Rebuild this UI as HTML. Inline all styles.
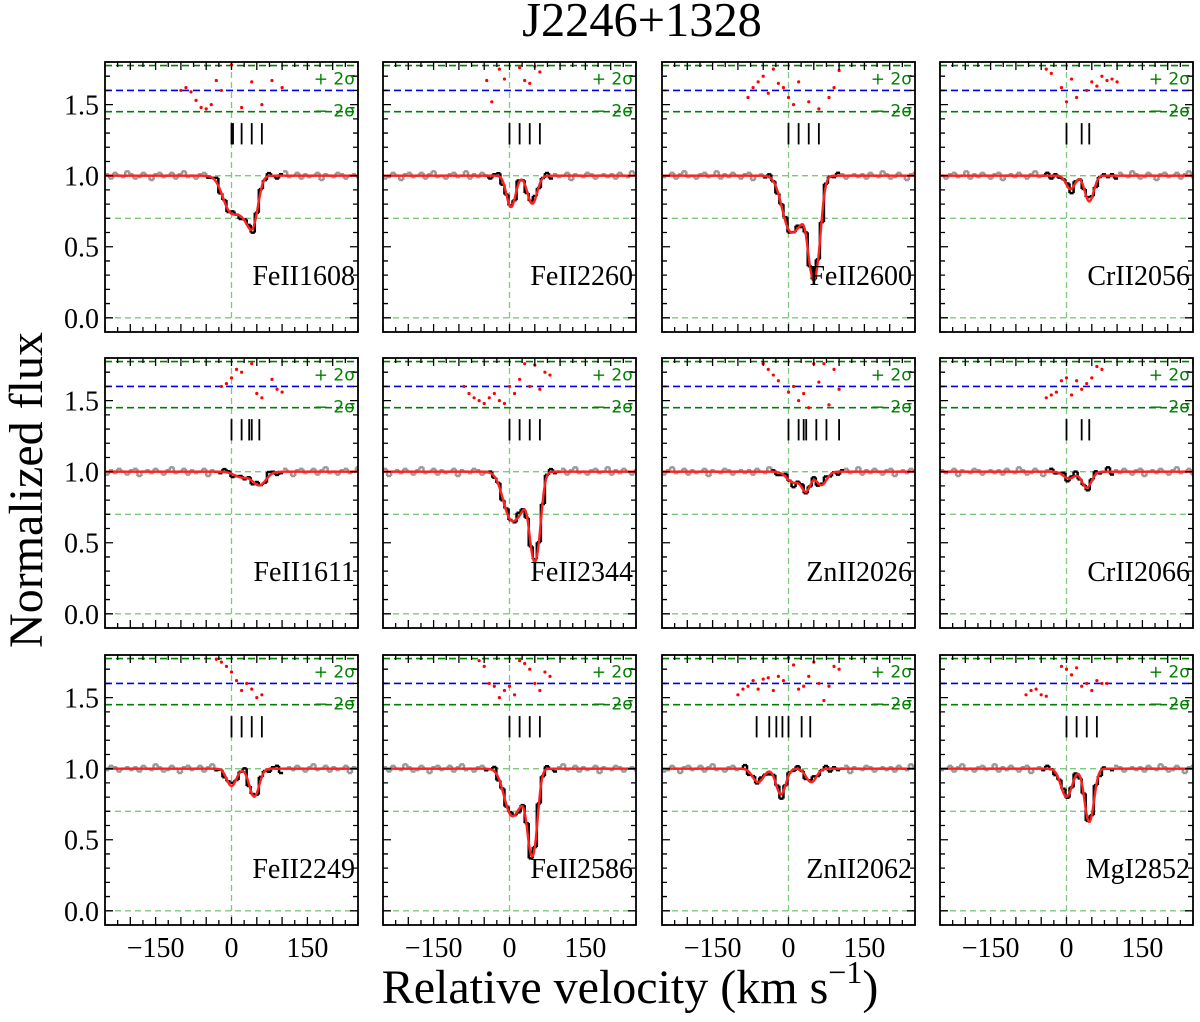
<!DOCTYPE html>
<html><head><meta charset="utf-8"><style>
html,body{margin:0;padding:0;background:#fff;}
svg{display:block;font-family:"Liberation Serif",serif;}
</style></head><body>
<svg id="fig" width="1200" height="1022" viewBox="0 0 1200 1022" xmlns="http://www.w3.org/2000/svg">
<text x="642" y="36" font-size="44" text-anchor="middle" transform="translate(642,36) scale(1.1,1.1) translate(-642,-36)">J2246+1328</text>
<text transform="translate(42,490) rotate(-90)" font-size="48" text-anchor="middle">Normalized flux</text>
<text x="630" y="1003" font-size="48" text-anchor="middle">Relative velocity (km s<tspan font-size="32" dy="-20">−1</tspan><tspan dy="20">)</tspan></text>
<g id="panels"></g>
</svg>
<script>
// ---- data ----
const ions = ["FeII1608","FeII2260","FeII2600","CrII2056","FeII1611","FeII2344","ZnII2026","CrII2066","FeII2249","FeII2586","ZnII2062","MgI2852"];
// model components per panel: [velocity, optical depth, width]
const comps = [
 [[0,0.3,22],[25,0.2,15],[42,0.4,14]],
 [[3,0.25,12],[45,0.22,13]],
 [[5,0.5,22],[25,0.15,12],[50,1.3,14]],
 [[8,0.1,12],[45,0.2,12]],
 [[20,0.04,20],[55,0.1,18]],
 [[5,0.42,22],[25,0.12,12],[50,1.0,13]],
 [[10,0.08,18],[35,0.14,12],[65,0.1,14]],
 [[5,0.05,15],[40,0.12,13]],
 [[0,0.13,13],[45,0.22,13]],
 [[5,0.4,20],[25,0.1,12],[45,0.95,12]],
 [[-60,0.1,15],[-15,0.2,13],[45,0.1,14]],
 [[0,0.22,15],[45,0.47,12]]
];
// spectrum noise per pixel (shared pattern)
const noise = [0.01,-0.02,0.02,0.0,-0.01,0.03,0.01,-0.02,-0.01,0.02,0.0,-0.03,0.01,0.02,-0.01,0.0,0.02,-0.02,0.01,0.03,-0.01,0.0,-0.02,0.01,0.02,-0.01,0.0,0.03,-0.02,0.01,-0.01,0.02,0.0,-0.02,0.01,0.02,-0.03,0.0,0.01,-0.01,0.02,0.0,-0.02,0.01,0.03,-0.01,0.0,0.02,-0.02,0.01,-0.01,0.0,0.02,-0.03,0.01,0.0,-0.01,0.02,0.01,-0.02,0.0,0.01,-0.01];
// component marker velocities
const markers = [
 [0,3,20,40,60],[0,20,40,60],[0,20,40,60],[0,30,45],
 [0,20,35,40,55],[0,20,40,60],[0,30,35,55,75,100,20],[0,30,45],
 [0,20,40,60],[0,20,40,60],[-63,-38,-24,-12,0,26,43],[0,20,40,60]
];
// residual dots: velocities and display values
const resV = [
 [-100,-90,-80,-70,-60,-50,-40,-30,-20,0,20,40,60,80,100],
 [-45,-35,-20,-10,20,30,40,50,60],
 [-80,-70,-60,-50,-40,-30,-20,-10,0,10,20,40,60,80,90,100],
 [-40,-30,-10,0,10,20,40,50,60,70,80,90,100],
 [-20,-10,0,10,20,40,50,60,80,90,100],
 [-90,-80,-70,-60,-50,-40,-30,-20,-10,0,10,20,30,40,50,60,70,80],
 [-50,-40,-30,-20,0,10,20,30,40,50,60,70,80,90,100],
 [-40,-30,-20,-10,0,10,20,30,40,50,60,70],
 [-30,-20,-10,0,10,20,30,40,50,60],
 [-60,-50,-40,-30,-20,-10,0,10,20,30,40,50,60,70,80],
 [-100,-90,-80,-70,-60,-50,-40,-30,-20,-10,0,10,20,30,40,50,60,70,80,90,100],
 [-80,-70,-60,-50,-40,-10,0,10,20,30,40,50,60,70,80]
];
const resY = [
 [1.6,1.62,1.59,1.53,1.48,1.47,1.5,1.67,1.6,1.78,1.48,1.66,1.5,1.67,1.62],
 [1.67,1.52,1.75,1.68,1.76,1.67,1.65,1.77,1.73],
 [1.55,1.62,1.66,1.7,1.58,1.75,1.65,1.62,1.55,1.5,1.66,1.52,1.47,1.55,1.62,1.74],
 [1.75,1.72,1.62,1.52,1.68,1.55,1.6,1.66,1.63,1.7,1.67,1.68,1.66],
 [1.6,1.62,1.66,1.72,1.7,1.76,1.55,1.52,1.65,1.58,1.56],
 [1.6,1.55,1.52,1.5,1.48,1.52,1.55,1.5,1.48,1.6,1.55,1.65,1.76,1.6,1.75,1.58,1.7,1.68],
 [1.76,1.72,1.68,1.64,1.56,1.6,1.5,1.55,1.45,1.76,1.63,1.76,1.47,1.72,1.58],
 [1.52,1.54,1.56,1.64,1.66,1.54,1.64,1.58,1.62,1.66,1.74,1.72],
 [1.77,1.75,1.72,1.68,1.62,1.55,1.6,1.56,1.5,1.52],
 [1.76,1.72,1.6,1.58,1.5,1.55,1.58,1.52,1.76,1.74,1.7,1.6,1.55,1.68,1.65],
 [1.52,1.56,1.58,1.62,1.56,1.63,1.64,1.55,1.65,1.62,1.78,1.73,1.56,1.58,1.65,1.75,1.6,1.48,1.58,1.72,1.7],
 [1.52,1.55,1.56,1.52,1.51,1.72,1.7,1.66,1.71,1.58,1.6,1.55,1.62,1.6,1.6]
];
// region of fitted data (black), rest gray
const fitLo = [-50,-50,-50,-50,-40,-50,-40,-40,-40,-50,-100,-50];
const fitHi = [100,80,100,100,100,100,110,90,100,90,110,90];
const yTicks = [0.0,0.5,1.0,1.5];
const xTicks = [-150,0,150];

// ---- layout ----
const colX=[105,383,662,940], rowY=[62,358,655], PW=253, PH=270;
const VMIN=-250,VMAX=250,YMIN=-0.1,YMAX=1.8;
const NS="http://www.w3.org/2000/svg";
const root=document.getElementById('panels');
function mk(tag,attrs,parent){const e=document.createElementNS(NS,tag);for(const k in attrs)e.setAttribute(k,attrs[k]);(parent||root).appendChild(e);return e;}
function model(i,v){let t=0;for(const c of comps[i]){const z=(v-c[0])/c[2];t+=c[1]*Math.exp(-(z*z));}return Math.exp(-t);}

ions.forEach((ion,i)=>{
 const r=Math.floor(i/4),c=i%4,x0=colX[c],y0=rowY[r];
 const X=v=>x0+(v-VMIN)/(VMAX-VMIN)*PW;
 const Y=f=>y0+PH-(f-YMIN)/(YMAX-YMIN)*PH;
 const g=mk('g',{});
 
 
 const cl='clip'+i;
 const cp=mk('clipPath',{id:cl},g);mk('rect',{x:x0,y:y0,width:PW,height:PH},cp);
 const inner=mk('g',{'clip-path':'url(#'+cl+')'},g);
 [[1.0,'#7fc87f'],[0.7,'#7fc87f'],[0.0,'#7fc87f']].forEach(([f,col])=>{
  const l=mk('line',{x1:x0,x2:x0+PW,y1:Y(f),y2:Y(f),stroke:col,'stroke-width':1.3,'stroke-dasharray':'6,4'},inner);
  
  
 });
 const vl=mk('line',{x1:X(0),x2:X(0),y1:y0,y2:y0+PH,stroke:'#7fc87f','stroke-width':1.3,'stroke-dasharray':'6,4'},inner);
 
 
 [[1.775,'#008000'],[1.45,'#008000'],[1.6,'#0000ee']].forEach(([f,col])=>{
  const l=mk('line',{x1:x0,x2:x0+PW,y1:Y(f),y2:Y(f),stroke:col,'stroke-width':1.6,'stroke-dasharray':'7,4'},inner);
  
  
 });
 const s1=mk('text',{x:x0+PW-3,y:Y(1.775)+19,'font-size':17,fill:'#008000','text-anchor':'end','font-family':'DejaVu Sans, sans-serif'},g);s1.textContent='+ 2σ';
 
 
 const s2=mk('text',{x:x0+PW-3,y:Y(1.45)+5,'font-size':17,fill:'#008000','text-anchor':'end','font-family':'DejaVu Sans, sans-serif'},g);s2.textContent='− 2σ';
 
 
 resV[i].forEach((v,k)=>{
  const d=mk('circle',{cx:X(v),cy:Y(resY[i][k]),r:1.6,fill:'#ff0000'},inner);
  
  
 });
 markers[i].forEach(v=>{
  const m=mk('line',{x1:X(v),x2:X(v),y1:Y(1.37),y2:Y(1.22),stroke:'#000','stroke-width':1.8},inner);
  
  
 });
 const step=8;
 let pg='',pb='';
 let idx=0;
 const val=(k,v)=>model(i,v)+noise[(k+i*7)%noise.length];
 for(let v=VMIN;v<VMAX;v+=step,idx++){
  const f=val(idx,v+step/2);
  const seg=`M${X(v)},${Y(f)}H${X(v+step)}`;
  const fn=val(idx+1,v+step*1.5);
  const link=`M${X(v+step)},${Y(f)}V${Y(fn)}`;
  if(v>=fitLo[i]&&v<fitHi[i]){pb+=seg+(v+step<fitHi[i]?link:'');}else{pg+=seg+link;}
 }
 const gd=mk('path',{d:pg,fill:'none',stroke:'#999','stroke-width':2.5},inner);
 
 
 const bd=mk('path',{d:pb,fill:'none',stroke:'#000','stroke-width':2.5},inner);
 
 
 let pm='';
 for(let v=VMIN;v<=VMAX;v+=2){pm+=(v===VMIN?'M':'L')+X(v)+','+Y(model(i,v));}
 const md=mk('path',{d:pm,fill:'none',stroke:'#ff2020','stroke-width':2.4},inner);
 
 
 let tk='';
 for(let n=0;n<=19;n++){const f=-0.1+n*0.1;const yy=Y(f);const big=(n%5)===1;const L=big?8:5;tk+=`M${x0},${yy}h${L}M${x0+PW},${yy}h${-L}`;}
 for(let v=-250;v<=250;v+=25){const xx=X(v);const big=v%50===0;const L=big?8:5;tk+=`M${xx},${y0+PH}v${-L}M${xx},${y0}v${L}`;}
 mk('path',{d:tk,stroke:'#000','stroke-width':1.3,fill:'none'},g);
 const fr=mk('rect',{x:x0,y:y0,width:PW,height:PH,fill:'none',stroke:'#000','stroke-width':1.8},g);
 
 
 const lb=mk('text',{x:x0+PW-3,y:Y(0.3)+10,'font-size':28,'text-anchor':'end'},g);lb.textContent=ion;
 
 
 if(c===0){yTicks.forEach(t=>{const e=mk('text',{x:x0-6,y:Y(t)+10,'font-size':28,'text-anchor':'end'},g);e.textContent=t.toFixed(1);
  
  });}
 if(r===2){xTicks.forEach(t=>{const e=mk('text',{x:X(t),y:y0+PH+32,'font-size':28,'text-anchor':'middle'},g);e.textContent=t<0?'−'+(-t):String(t);
  
  });}
});
</script>
</body></html>
